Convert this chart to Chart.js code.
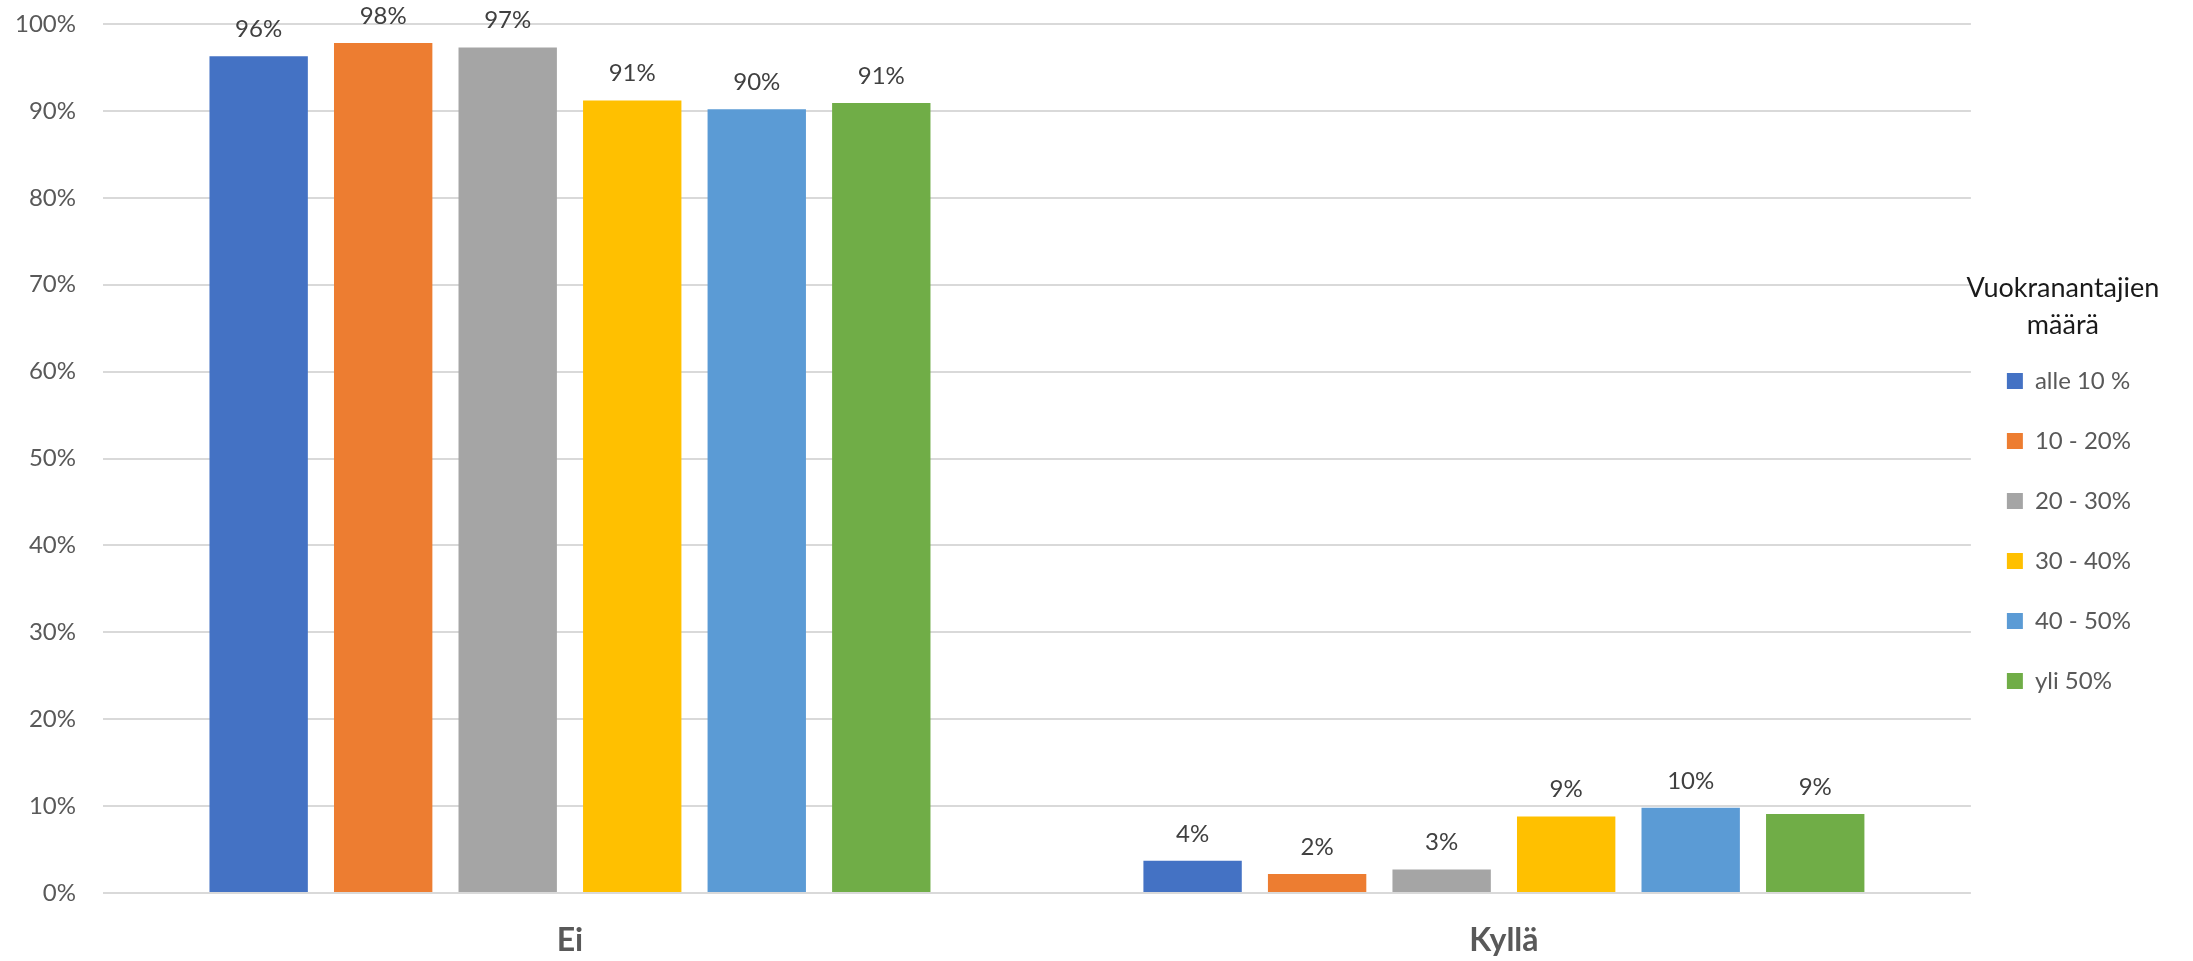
<!DOCTYPE html>
<html>
<head>
<meta charset="utf-8">
<script src="https://cdn.jsdelivr.net/npm/chart.js@4/dist/chart.umd.min.js"></script>
<style>
  html, body { margin: 0; padding: 0; background: #ffffff; }
  #wrap { width: 2193px; height: 961px; position: relative; }
</style>
</head>
<body>
<div id="wrap"><canvas id="c" width="2193" height="961"></canvas></div>
<script>
const categories = ['Ei', 'Kyllä'];
const seriesNames = ['alle 10 %', '10 - 20%', '20 - 30%', '30 - 40%', '40 - 50%', 'yli 50%'];
const alle10 = [96.3, 3.7];
const v10_20 = [97.8, 2.2];
const v20_30 = [97.3, 2.7];
const v30_40 = [91.2, 8.8];
const v40_50 = [90.2, 9.8];
const yli50 = [90.9, 9.1];
const seriesValues = [alle10, v10_20, v20_30, v30_40, v40_50, yli50];
const seriesColors = ['#4472C4', '#ED7D31', '#A5A5A5', '#FFC000', '#5B9BD5', '#70AD47'];
const yTicks = [0, 10, 20, 30, 40, 50, 60, 70, 80, 90, 100];
const legendTitle = ['Vuokranantajien', 'määrä'];

const FONT = 'Lato, "Open Sans", sans-serif';

const dataLabels = {
  id: 'dataLabels',
  afterDatasetsDraw(chart) {
    const ctx = chart.ctx;
    ctx.save();
    ctx.font = '24px ' + FONT;
    ctx.fillStyle = '#404040';
    ctx.textAlign = 'center';
    ctx.textBaseline = 'middle';
    chart.data.datasets.forEach((ds, i) => {
      const meta = chart.getDatasetMeta(i);
      if (meta.hidden) return;
      meta.data.forEach((el, j) => {
        const v = ds.data[j];
        ctx.fillText(Math.round(v) + '%', el.x, el.y - 27);
      });
    });
    ctx.restore();
  }
};

const legendTitlePlugin = {
  id: 'legendTitlePlugin',
  afterDraw(chart) {
    const lg = chart.legend;
    if (!lg || !lg.legendHitBoxes || !lg.legendHitBoxes.length) return;
    const hb = lg.legendHitBoxes[0];
    const cy = hb.top + hb.height / 2;
    const cx = hb.left + 56;
    const ctx = chart.ctx;
    ctx.save();
    ctx.font = '27px ' + FONT;
    ctx.fillStyle = '#1a1a1a';
    ctx.textAlign = 'center';
    ctx.textBaseline = 'middle';
    ctx.fillText(legendTitle[0], cx, cy - 93);
    ctx.fillText(legendTitle[1], cx, cy - 56);
    ctx.restore();
  }
};

new Chart(document.getElementById('c'), {
  type: 'bar',
  data: {
    labels: categories,
    datasets: seriesNames.map((name, i) => ({
      label: name,
      data: seriesValues[i],
      backgroundColor: seriesColors[i],
      borderWidth: 0,
      categoryPercentage: 0.8,
      barPercentage: 0.79
    }))
  },
  options: {
    responsive: false,
    animation: false,
    devicePixelRatio: 1,
    layout: { padding: { left: 15, right: 52, top: 24, bottom: 0 } },
    plugins: {
      tooltip: { enabled: false },
      legend: {
        position: 'right',
        align: 'center',
        title: {
          display: true,
          text: ' ',
          color: 'rgba(0,0,0,0)',
          font: { family: FONT, size: 10, lineHeight: 1 },
          padding: { top: 67, bottom: 0 }
        },
        labels: {
          color: '#595959',
          font: { family: FONT, size: 24 },
          boxWidth: 16,
          boxHeight: 16,
          padding: 36
        }
      }
    },
    scales: {
      x: {
        afterFit(scale) { scale.height = 68; },
        grid: { display: false, drawTicks: false },
        border: { display: false },
        ticks: {
          color: '#595959',
          font: { family: FONT, size: 32, weight: 'bold' },
          padding: 28,
          maxRotation: 0
        }
      },
      y: {
        min: 0,
        max: 100,
        afterFit(scale) {
          scale.width = 88;
          scale.paddingTop = 0;
          scale.paddingBottom = 0;
        },
        afterBuildTicks(scale) { scale.ticks = yTicks.map(v => ({ value: v })); },
        grid: { color: '#D9D9D9', lineWidth: 2, drawTicks: false },
        border: { display: false },
        ticks: {
          color: '#595959',
          font: { family: FONT, size: 24 },
          padding: 27,
          callback: v => v + '%'
        }
      }
    }
  },
  plugins: [dataLabels, legendTitlePlugin]
});
</script>
</body>
</html>
